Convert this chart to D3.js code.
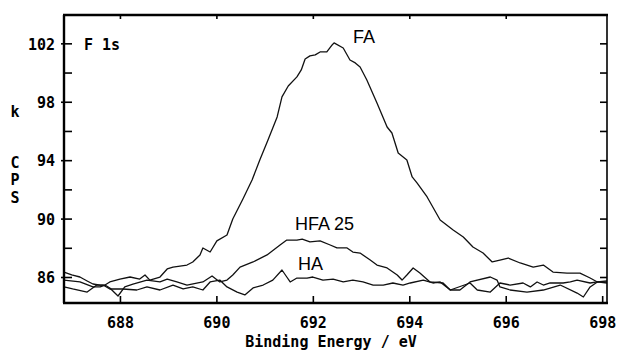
<!DOCTYPE html>
<html>
<head>
<meta charset="utf-8">
<script src="https://cdn.jsdelivr.net/npm/d3@7"></script>
<style>
  html, body { margin: 0; padding: 0; background: #fff; }
  svg { display: block; }
</style>
</head>
<body>
<svg id="chart" width="617" height="352"></svg>
<script>
// ---- data (binding energy eV, kCPS) ----
const faE = [686.84, 687.00, 687.17, 687.32, 687.44, 687.59, 687.69, 687.79, 688.00, 688.21, 688.41, 688.52, 688.62, 688.83, 688.98, 689.10, 689.39, 689.51, 689.66, 689.72, 689.87, 690.01, 690.22, 690.34, 690.55, 690.74, 690.90, 691.07, 691.26, 691.36, 691.49, 691.67, 691.76, 691.84, 691.94, 692.05, 692.15, 692.29, 692.40, 692.44, 692.63, 692.77, 692.88, 692.98, 693.12, 693.33, 693.54, 693.64, 693.77, 693.95, 694.06, 694.16, 694.37, 694.64, 694.91, 695.12, 695.32, 695.53, 695.72, 695.88, 696.05, 696.30, 696.57, 696.78, 696.98, 697.27, 697.54, 697.75, 697.90, 698.10];
const faV = [86.34, 86.14, 86.00, 85.73, 85.52, 85.45, 85.45, 85.66, 85.86, 86.00, 85.86, 86.14, 85.79, 86.00, 86.55, 86.68, 86.82, 87.03, 87.51, 87.99, 87.71, 88.47, 88.88, 89.97, 91.34, 92.64, 94.01, 95.38, 96.96, 98.33, 99.08, 99.70, 100.18, 100.93, 101.14, 101.21, 101.41, 101.41, 101.89, 102.03, 101.68, 100.86, 100.66, 100.38, 99.49, 97.92, 96.27, 95.86, 94.49, 94.01, 92.85, 92.44, 91.48, 89.90, 89.22, 88.74, 88.05, 87.64, 87.03, 87.16, 87.30, 86.96, 86.68, 86.82, 86.34, 86.27, 86.27, 85.93, 85.66, 85.66];

const hfaE = [686.84, 687.17, 687.44, 687.59, 687.69, 687.79, 687.96, 688.10, 688.27, 688.56, 688.83, 688.98, 689.18, 689.39, 689.72, 689.91, 690.07, 690.22, 690.34, 690.49, 690.76, 691.05, 691.32, 691.46, 691.67, 691.78, 691.94, 692.15, 692.36, 692.50, 692.71, 692.83, 692.98, 693.19, 693.33, 693.54, 693.75, 693.85, 693.95, 694.08, 694.22, 694.43, 694.70, 694.85, 695.05, 695.26, 695.68, 695.82, 695.88, 696.09, 696.44, 696.78, 697.13, 697.48, 697.61, 697.75, 697.90, 698.10];
const hfaV = [85.79, 85.66, 85.32, 85.32, 85.45, 85.25, 84.70, 85.32, 85.52, 85.79, 85.66, 85.86, 85.66, 85.45, 85.66, 86.07, 85.66, 85.79, 86.14, 86.68, 87.03, 87.51, 88.19, 88.53, 88.53, 88.60, 88.40, 88.47, 88.19, 87.99, 87.99, 87.71, 87.64, 87.16, 86.82, 86.62, 86.14, 85.79, 86.14, 86.62, 86.27, 85.66, 85.59, 85.11, 85.11, 85.66, 86.00, 85.79, 85.32, 85.11, 84.97, 85.11, 85.45, 84.90, 84.63, 85.32, 85.66, 85.59];

const haE = [686.84, 687.02, 687.32, 687.52, 687.65, 687.79, 688.06, 688.35, 688.56, 688.83, 689.10, 689.31, 689.51, 689.72, 689.87, 690.07, 690.22, 690.43, 690.59, 690.76, 690.97, 691.17, 691.36, 691.46, 691.53, 691.67, 691.88, 692.00, 692.21, 692.42, 692.63, 692.83, 693.04, 693.25, 693.46, 693.66, 693.87, 694.02, 694.29, 694.49, 694.64, 694.85, 695.26, 695.41, 695.68, 695.88, 696.09, 696.36, 696.51, 696.65, 696.78, 696.92, 697.19, 697.34, 697.48, 697.75, 697.90, 698.10];
const haV = [85.32, 85.18, 84.97, 85.45, 85.45, 85.18, 85.18, 85.11, 85.32, 85.11, 85.45, 85.18, 85.32, 85.11, 85.66, 85.79, 85.32, 84.97, 84.77, 85.25, 85.45, 85.79, 86.48, 86.00, 85.66, 85.93, 85.93, 86.00, 85.79, 85.86, 85.66, 85.79, 85.66, 85.45, 85.45, 85.59, 85.45, 85.59, 85.79, 85.59, 85.66, 85.11, 85.59, 85.11, 84.97, 85.59, 85.45, 85.59, 85.32, 85.66, 85.45, 85.59, 85.59, 85.66, 85.79, 85.59, 85.66, 85.73];

const xTicks = [688, 690, 692, 694, 696, 698];
const yMajor = [86, 90, 94, 98, 102];
const yMinor = [88, 92, 96, 100];
const yRight = [86, 88, 90, 92, 94, 96, 98, 100, 102];
const xTitle = "Binding Energy / eV";
const yTitleLetters = ["k", "C", "P", "S"];
const panelLabel = "F 1s";
const curveLabels = ["FA", "HFA 25", "HA"];

// ---- layout ----
const L = 64, R = 607, T = 15, B = 303;
const x = d3.scaleLinear().domain([686.84, 698.1]).range([L, R]);
const y = d3.scaleLinear().domain([84.22, 103.94]).range([B, T]);
const mono = "'DejaVu Sans Mono', monospace";
const sans = "'Liberation Sans', Arial, sans-serif";

const svg = d3.select("#chart");
svg.append("rect").attr("width", 617).attr("height", 352).attr("fill", "#fff");

// curves
const line = d3.line().x(d => x(d[0])).y(d => y(d[1]));
const series = [
  d3.zip(haE, haV),
  d3.zip(hfaE, hfaV),
  d3.zip(faE, faV)
];
svg.append("g").selectAll("path").data(series).join("path")
  .attr("d", line)
  .attr("fill", "none")
  .attr("stroke", "#111")
  .attr("stroke-width", 1.3)
  .attr("stroke-linejoin", "round");

// axes (ticks) via d3 axes
function styleAxis(g) {
  g.select(".domain").remove();
  g.selectAll("line").attr("stroke", "#000").attr("stroke-width", 1.6);
}
// bottom
const gB = svg.append("g").attr("transform", `translate(0,${B})`)
  .call(d3.axisBottom(x).tickValues(xTicks).tickSizeInner(-7).tickSizeOuter(0).tickFormat(d3.format("d")))
  .call(styleAxis);
gB.selectAll("text").attr("y", 25).attr("dy", 0)
  .attr("font-family", mono).attr("font-size", 15).attr("font-weight", "bold").attr("fill", "#000");
// top
svg.append("g").attr("transform", `translate(0,${T})`)
  .call(d3.axisTop(x).tickValues(xTicks.slice(0, 5)).tickSizeInner(-4).tickSizeOuter(0).tickFormat(""))
  .call(styleAxis);
// left major
const gL = svg.append("g").attr("transform", `translate(${L},0)`)
  .call(d3.axisLeft(y).tickValues(yMajor).tickSizeInner(-8).tickSizeOuter(0).tickPadding(9).tickFormat(d3.format("d")))
  .call(styleAxis);
gL.selectAll("text").attr("x", -9).attr("dy", 5.8)
  .attr("font-family", mono).attr("font-size", 15).attr("font-weight", "bold").attr("fill", "#000");
// small outward stubs on major ticks
svg.append("g").attr("transform", `translate(${L},0)`)
  .call(d3.axisLeft(y).tickValues(yMajor).tickSizeInner(3).tickSizeOuter(0).tickFormat(""))
  .call(styleAxis);
// left minor
svg.append("g").attr("transform", `translate(${L},0)`)
  .call(d3.axisLeft(y).tickValues(yMinor).tickSizeInner(-8).tickSizeOuter(0).tickFormat(""))
  .call(styleAxis);
// right
svg.append("g").attr("transform", `translate(${R},0)`)
  .call(d3.axisRight(y).tickValues(yRight).tickSizeInner(-7).tickSizeOuter(0).tickFormat(""))
  .call(styleAxis);

// frame
svg.append("line").attr("x1", L - 1).attr("x2", R + 1).attr("y1", T).attr("y2", T).attr("stroke", "#000").attr("stroke-width", 2.4);
svg.append("line").attr("x1", L - 1).attr("x2", R + 1).attr("y1", B).attr("y2", B).attr("stroke", "#000").attr("stroke-width", 2.4);
svg.append("line").attr("x1", L).attr("x2", L).attr("y1", T).attr("y2", B).attr("stroke", "#000").attr("stroke-width", 2.4);
svg.append("line").attr("x1", R).attr("x2", R).attr("y1", T).attr("y2", B).attr("stroke", "#000").attr("stroke-width", 1.6);

// axis titles
svg.append("text").attr("x", (245 + 417) / 2).attr("y", 347).attr("text-anchor", "middle")
  .attr("font-family", mono).attr("font-size", 15).attr("font-weight", "bold").attr("fill", "#000")
  .text(xTitle);
const yTitleBase = [117, 168, 185, 203];
svg.append("g").selectAll("text").data(yTitleLetters).join("text")
  .attr("x", 15).attr("y", (d, i) => yTitleBase[i]).attr("text-anchor", "middle")
  .attr("font-family", mono).attr("font-size", 15).attr("font-weight", "bold").attr("fill", "#000")
  .text(d => d);

// panel label
svg.append("text").attr("x", 84).attr("y", 50)
  .attr("font-family", mono).attr("font-size", 15).attr("font-weight", "bold").attr("fill", "#000")
  .attr("xml:space", "preserve").style("white-space", "pre")
  .text(panelLabel);

// curve labels
const labelPos = [[353, 43], [295, 230], [298, 270]];
svg.append("g").selectAll("text").data(curveLabels).join("text")
  .attr("x", (d, i) => labelPos[i][0]).attr("y", (d, i) => labelPos[i][1])
  .attr("font-family", sans).attr("font-size", 18).attr("fill", "#000")
  .style("white-space", "pre")
  .text(d => d);
</script>
</body>
</html>
